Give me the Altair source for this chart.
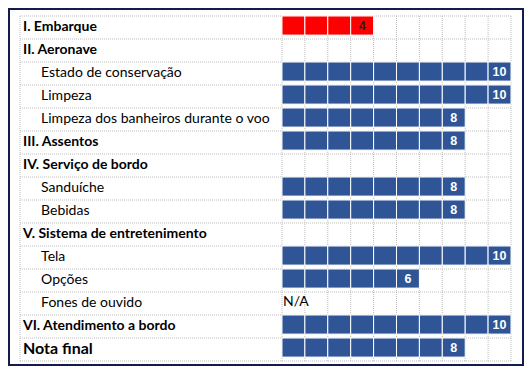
import altair as alt
import pandas as pd

# ---- data ----
labels = [
    "I. Embarque", "II. Aeronave", "Estado de conservação", "Limpeza",
    "Limpeza dos banheiros durante o voo", "III. Assentos", "IV. Serviço de bordo",
    "Sanduíche", "Bebidas", "V. Sistema de entretenimento", "Tela", "Opções",
    "Fones de ouvido", "VI. Atendimento a bordo", "Nota final",
]
levels = [0, 0, 1, 1, 1, 0, 0, 1, 1, 0, 1, 1, 1, 0, 0]
scores = [4, None, 10, 10, 8, 8, None, 8, 8, None, 10, 6, "N/A", 10, 8]
max_score = 10

rows = pd.DataFrame({
    "row": list(range(len(labels))),
    "label": labels,
    "level": levels,
    "final": [lab == "Nota final" for lab in labels],
})

cell_recs, val_recs, na_recs = [], [], []
for i, s in enumerate(scores):
    if isinstance(s, int):
        for u in range(1, s + 1):
            cell_recs.append({"row": i, "unit": u, "score": s})
        val_recs.append({"row": i, "score": s, "txt": str(s)})
    elif s == "N/A":
        na_recs.append({"row": i, "txt": s})
cells = pd.DataFrame(cell_recs)
vals = pd.DataFrame(val_recs)
nas = pd.DataFrame(na_recs)
hlines = pd.DataFrame({"b": list(range(len(labels) + 1))})
nrows = len(labels)

W, H = 516, 358
X_LEFT = -11.441  # left edge of the table grid (label column start)
xs = alt.Scale(domain=[-11.965, 10.568], nice=False, zero=False)
ys = alt.Scale(domain=[-0.348, 15.217], nice=False, zero=False, reverse=True)

BLUE = "#2F5597"
RED = "#FF0000"
GRID = "#BDBDBD"

def X(f):
    return alt.X(f, scale=xs, axis=None)

def Y(f):
    return alt.Y(f, scale=ys, axis=None)

grid_h = alt.Chart(hlines).transform_calculate(
    xa=f"{X_LEFT}", xb=f"{max_score}"
).mark_rule(color=GRID, strokeDash=[1, 1], strokeWidth=1).encode(
    y=Y("b:Q"), x=X("xa:Q"), x2="xb:Q",
)
vl_all = pd.DataFrame({"b": [X_LEFT] + list(range(max_score + 1))})
grid_v = alt.Chart(vl_all).transform_calculate(
    ya="0", yb=f"{nrows}"
).mark_rule(color=GRID, strokeDash=[1, 1], strokeWidth=1).encode(
    x=X("b:Q"), y=Y("ya:Q"), y2="yb:Q",
)

bars = alt.Chart(cells).transform_calculate(
    x0="datum.unit - 1", y0="datum.row", y1="datum.row + 0.83"
).mark_rect(stroke="white", strokeWidth=1).encode(
    x=X("x0:Q"), x2="unit:Q",
    y=Y("y0:Q"), y2="y1:Q",
    color=alt.condition("datum.score < 5", alt.value(RED), alt.value(BLUE)),
)

val_text = alt.Chart(vals).transform_calculate(
    xc="datum.score - 0.5", yc="datum.row + 0.44"
).mark_text(font="Liberation Sans", fontWeight="bold", fontSize=12.5,
            align="center", baseline="middle").encode(
    x=X("xc:Q"), y=Y("yc:Q"),
    text="txt:N",
    color=alt.condition("datum.score < 5", alt.value("#222222"), alt.value("white")),
)

na_text = alt.Chart(nas).transform_calculate(
    xc="0", yc="datum.row + 0.45"
).mark_text(font="Lato", fontSize=14, align="left", baseline="middle",
            color="black", dx=1).encode(
    x=X("xc:Q"), y=Y("yc:Q"), text="txt:N",
)

head_lab = alt.Chart(rows).transform_filter("datum.level == 0").transform_calculate(
    yc="datum.row + 0.47", xc=f"{X_LEFT} + 0.13"
).mark_text(font="Lato", fontWeight="bold", align="left", baseline="middle",
            color="black").encode(
    x=X("xc:Q"), y=Y("yc:Q"), text="label:N",
    size=alt.condition("datum.final", alt.value(16), alt.value(14)),
)
sub_lab = alt.Chart(rows).transform_filter("datum.level == 1").transform_calculate(
    yc="datum.row + 0.47", xc=f"{X_LEFT} + 0.92"
).mark_text(font="Lato", fontSize=14, align="left", baseline="middle",
            color="black").encode(
    x=X("xc:Q"), y=Y("yc:Q"), text="label:N",
)

chart = alt.layer(grid_h, grid_v, bars, val_text, na_text, head_lab, sub_lab).properties(
    width=W, height=H,
    autosize=alt.AutoSizeParams(type="none"),
    padding=0,
).configure_view(stroke="#141C4E", strokeWidth=4)

chart.save("out.html", embed_options={"renderer": "svg", "actions": False})
